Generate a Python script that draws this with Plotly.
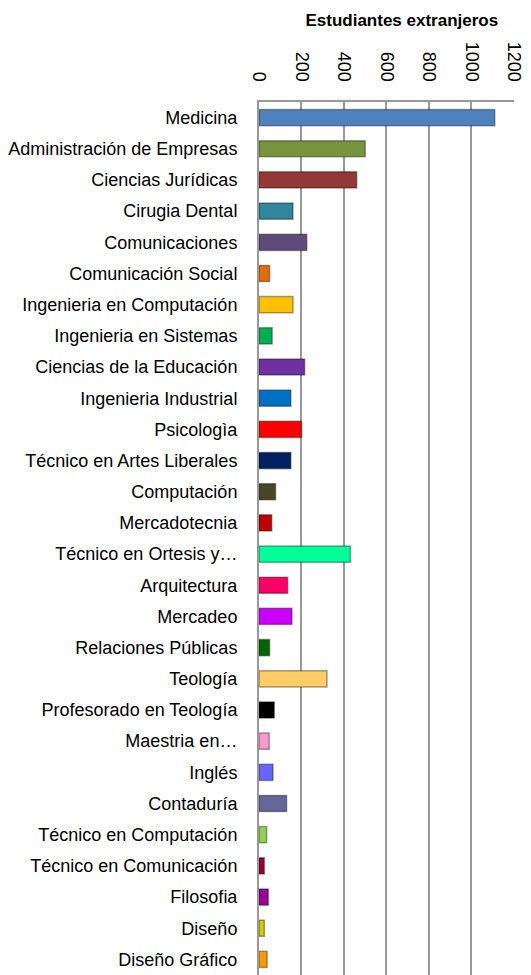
import plotly.graph_objects as go

# Careers and number of foreign students
carreras = [
    "Medicina", "Administración de Empresas", "Ciencias Jurídicas", "Cirugia Dental",
    "Comunicaciones", "Comunicación Social", "Ingenieria en Computación",
    "Ingenieria en Sistemas", "Ciencias de la Educación", "Ingenieria Industrial",
    "Psicologìa", "Técnico en Artes Liberales", "Computación", "Mercadotecnia",
    "Técnico en Ortesis y…", "Arquitectura", "Mercadeo", "Relaciones Públicas",
    "Teología", "Profesorado en Teología", "Maestria en…", "Inglés", "Contaduría",
    "Técnico en Computación", "Técnico en Comunicación", "Filosofia", "Diseño",
    "Diseño Gráfico",
]
estudiantes = [
    1110, 500, 460, 160, 225, 50, 160, 62, 215, 150,
    200, 150, 78, 60, 430, 135, 155, 50, 320, 72,
    48, 66, 130, 36, 25, 44, 25, 38,
]
colores = [
    "#4F81BD", "#77933C", "#953735", "#31859C", "#604A7B", "#E46C0A", "#FFC000",
    "#00B050", "#7030A0", "#0070C0", "#FF0000", "#002060", "#4A452A", "#C00000",
    "#00FF99", "#FF0066", "#CC00FF", "#006600", "#FFCC66", "#000000", "#FF99CC",
    "#6666FF", "#666699", "#92D050", "#990033", "#990099", "#CCCC00", "#FF9900",
]
ticks_x = [0, 200, 400, 600, 800, 1000, 1200]

fig = go.Figure()
fig.add_trace(go.Bar(
    x=estudiantes,
    y=carreras,
    orientation="h",
    width=0.52,
    marker=dict(color=colores, line=dict(color="rgba(0,0,0,0.35)", width=1.5)),
    showlegend=False,
))

# page has an 8px body margin, so the figure is a bit smaller than the window
fig.update_layout(
    width=523, height=967,
    margin=dict(l=249, r=17, t=94, b=0),
    paper_bgcolor="white", plot_bgcolor="white",
    font=dict(family="Liberation Sans", size=18, color="black"),
    title=dict(text="<b>Estudiantes extranjeros</b>", x=0.753, xanchor="center",
               y=0.9876, yanchor="middle", font=dict(size=17)),
    bargap=0.48,
)
fig.update_xaxes(
    side="top", range=[0, 1200.5], tickvals=ticks_x, tickangle=90,
    showgrid=True, gridcolor="#999999", gridwidth=2,
    showline=True, linecolor="#999999", linewidth=2,
    ticks="", zeroline=False, tickfont=dict(size=18), ticklabelstandoff=12,
)
fig.update_yaxes(
    autorange="reversed", showline=True, linecolor="#999999", linewidth=2,
    ticks="", ticklabelstandoff=16, tickfont=dict(size=18),
)

fig.write_html("out.html")
